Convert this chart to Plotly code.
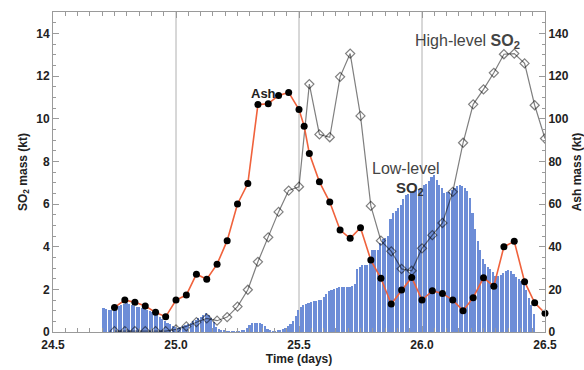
import plotly.graph_objects as go

# ---------------- data ----------------
# Low-level SO2 (kt), 15-minute bins starting at day 24.70
low_start = 24.70
low_step = 1 / 96
low_so2 = [
    1.12, 1.08, 1.05, 1.03, 1.06, 1.12, 1.20, 1.27, 1.32, 1.35,
    1.33, 1.28, 1.22, 1.18, 1.15, 1.12, 1.10, 1.05, 1.00, 0.95,
    0.88, 0.80, 0.72, 0.62, 0.52, 0.43, 0.36, 0.30, 0.22, 0.18,
    0.22, 0.27, 0.32, 0.36, 0.42, 0.50, 0.58, 0.65, 0.72, 0.80,
    0.88, 0.78, 0.64, 0.45, 0.25, 0.12, 0.08, 0.05, 0.03, 0.02,
    0.02, 0.02, 0.02, 0.03, 0.05, 0.10, 0.20, 0.32, 0.40, 0.42,
    0.42, 0.40, 0.38, 0.30, 0.12, 0.06, 0.04, 0.04, 0.06, 0.10,
    0.15, 0.20, 0.26, 0.36, 0.50, 0.75, 1.05, 1.18, 1.25, 1.30,
    1.36, 1.40, 1.43, 1.46, 1.48, 1.52, 1.65, 1.80, 1.90, 1.97,
    2.03, 2.08, 2.10, 2.12, 2.10, 2.10, 2.10, 2.15, 2.25, 2.95,
    3.05, 3.12, 3.14, 3.14, 3.30, 3.84, 3.84, 3.86, 4.15, 4.35,
    4.42, 4.50, 5.30, 5.60, 5.68, 5.80, 5.95, 6.25, 6.42, 6.45,
    6.50, 6.60, 6.65, 6.70, 6.75, 6.90, 6.95, 7.10, 7.27, 7.35,
    7.12, 6.90, 6.73, 6.50, 6.55, 6.57, 6.65, 6.75, 6.85, 6.88,
    6.85, 6.75, 6.60, 6.30, 5.56, 4.85, 4.25, 3.85, 3.40, 3.20,
    3.06, 2.95, 2.80, 2.62, 2.62, 2.68, 2.75, 2.88, 2.90, 2.85,
    2.72, 2.60, 2.50, 2.40, 2.20, 1.95, 1.60, 1.25, 0.85,
]
low_time = [low_start + (i + 0.5) * low_step for i in range(len(low_so2))]

# High-level SO2 (kt), hourly
high_time = [
    24.750, 24.792, 24.833, 24.875, 24.917, 24.958, 25.000, 25.042, 25.083, 25.125,
    25.167, 25.208, 25.250, 25.292, 25.333, 25.375, 25.417, 25.458, 25.500, 25.542,
    25.583, 25.625, 25.667, 25.708, 25.750, 25.792, 25.833, 25.875, 25.917, 25.958,
    26.000, 26.042, 26.083, 26.125, 26.167, 26.208, 26.250, 26.292, 26.333, 26.375,
    26.417, 26.458, 26.500,
]
high_so2 = [
    0.04, 0.04, 0.04, 0.04, 0.04, 0.04, 0.12, 0.26, 0.46, 0.64,
    0.53, 0.70, 1.19, 1.98, 3.29, 4.44, 5.63, 6.63, 6.81, 11.62,
    9.26, 9.13, 11.96, 13.05, 10.13, 5.91, 4.28, 3.78, 2.96, 2.87,
    3.92, 4.54, 5.11, 6.57, 8.87, 10.67, 11.37, 12.15, 13.02, 13.05,
    12.59, 10.63, 9.07,
]

# Ash mass (kt)
ash_time = [
    24.750, 24.792, 24.833, 24.875, 24.917, 24.958, 25.000, 25.042, 25.083, 25.125,
    25.167, 25.208, 25.250, 25.292, 25.333, 25.375, 25.417, 25.458, 25.500, 25.521,
    25.542, 25.583, 25.625, 25.667, 25.708, 25.750, 25.792, 25.833, 25.875, 25.917,
    25.958, 26.000, 26.042, 26.083, 26.125, 26.167, 26.208, 26.250, 26.292, 26.333,
    26.375, 26.417, 26.458, 26.500,
]
ash_mass = [
    11.5, 15.0, 13.9, 12.2, 9.2, 7.1, 15.0, 17.3, 27.1, 24.7,
    31.8, 42.8, 60.0, 69.6, 106.6, 107.0, 110.9, 112.3, 104.3, 96.5,
    83.7, 70.4, 60.9, 47.8, 43.9, 48.9, 33.7, 25.2, 13.1, 19.7,
    25.6, 15.0, 19.3, 18.1, 15.0, 10.0, 16.1, 25.4, 21.5, 40.0,
    42.5, 23.6, 13.7, 8.8,
]

x_ticks = [24.5, 25.0, 25.5, 26.0, 26.5]
x_ticklabels = ["24.5", "25.0", "25.5", "26.0", "26.5"]
ref_lines = [25.0, 25.5, 26.0]

# ---------------- figure ----------------
FONT = "Liberation Sans, Arial, sans-serif"
AXC = "#9a9a9a"

fig = go.Figure()

fig.add_trace(go.Bar(
    x=low_time, y=low_so2, width=low_step * 0.82,
    marker=dict(color="#6d8dd7", line=dict(width=0)),
    yaxis="y", showlegend=False,
))

fig.add_trace(go.Scatter(
    x=high_time, y=high_so2, mode="lines+markers",
    line=dict(color="rgba(0,0,0,0.5)", width=1.2),
    marker=dict(symbol="diamond-open", size=7,
                line=dict(color="rgba(0,0,0,0.55)", width=1.2)),
    yaxis="y", showlegend=False, cliponaxis=True,
))

fig.add_trace(go.Scatter(
    x=ash_time, y=ash_mass, mode="lines+markers",
    line=dict(color="#f0623c", width=1.6),
    marker=dict(symbol="circle", size=7, color="black"),
    yaxis="y2", showlegend=False, cliponaxis=False,
))

for xv in ref_lines:
    fig.add_shape(type="line", x0=xv, x1=xv, xref="x", y0=0, y1=1, yref="paper",
                  line=dict(color="#b0b0b0", width=1), layer="below")

tickfont = dict(family=FONT, size=12, color="#222", weight="bold")
titlefont = dict(family=FONT, size=12, color="#222", weight="bold")

fig.update_layout(
    width=584, height=370,
    margin=dict(l=53, r=39, t=12, b=38),
    paper_bgcolor="white", plot_bgcolor="white",
    bargap=0,
    xaxis=dict(
        range=[24.5, 26.5], tickvals=x_ticks, ticktext=x_ticklabels,
        ticks="inside", ticklen=6, tickcolor=AXC, showline=True, linecolor=AXC,
        mirror="ticks", showgrid=False, zeroline=False, tickfont=tickfont,
        ticklabelstandoff=2,
        minor=dict(dtick=0.05, tick0=24.5, ticks="inside", ticklen=4, tickcolor=AXC),
        title=dict(text="Time (days)", font=titlefont, standoff=0),
        automargin=False,
    ),
    yaxis=dict(
        range=[0, 15], dtick=2, tick0=0, ticks="inside", ticklen=6, tickcolor=AXC,
        showline=True, linecolor=AXC, showgrid=False, zeroline=False,
        tickfont=tickfont,
        minor=dict(dtick=0.5, ticks="inside", ticklen=3, tickcolor=AXC),
        title=dict(text="SO<sub>2</sub> mass (kt)", font=titlefont, standoff=6),
        automargin=False,
    ),
    yaxis2=dict(
        range=[0, 150], dtick=20, tick0=0, overlaying="y", side="right",
        ticks="inside", ticklen=6, tickcolor=AXC,
        showline=True, linecolor=AXC, showgrid=False, zeroline=False,
        tickfont=tickfont,
        minor=dict(dtick=5, ticks="inside", ticklen=3, tickcolor=AXC),
        title=dict(text="Ash mass (kt)", font=titlefont, standoff=4),
        automargin=False,
    ),
    annotations=[
        dict(x=25.354, y=11.19, xref="x", yref="y", text="<b>Ash</b>", showarrow=False,
             font=dict(family=FONT, size=13, color="#222")),
        dict(x=25.935, y=7.68, xref="x", yref="y", text="Low-level", showarrow=False,
             font=dict(family=FONT, size=16, color="#444")),
        dict(x=25.951, y=6.74, xref="x", yref="y", text="<b>SO<sub>2</sub></b>", showarrow=False,
             font=dict(family=FONT, size=15, color="#333")),
        dict(x=26.183, y=13.63, xref="x", yref="y", text="High-level <b>SO<sub>2</sub></b>",
             showarrow=False, font=dict(family=FONT, size=16, color="#444")),
    ],
)

fig.write_html(
    "out.html",
    config={"displayModeBar": False},
    post_script="document.body.style.margin='0';document.body.style.overflow='hidden';",
)
